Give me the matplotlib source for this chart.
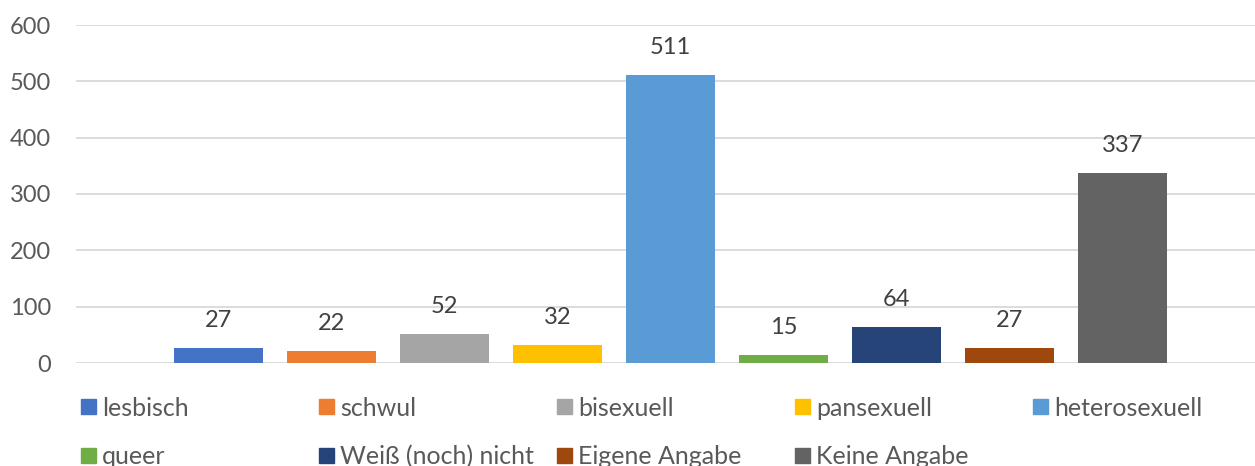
import numpy as np
import matplotlib.pyplot as plt
from matplotlib.patches import Rectangle

# data
categories = ['lesbisch', 'schwul', 'bisexuell', 'pansexuell', 'heterosexuell',
              'queer', 'Weiß (noch) nicht', 'Eigene Angabe', 'Keine Angabe']
counts = [27, 22, 52, 32, 511, 15, 64, 27, 337]
colors = ['#4472C4', '#ED7D31', '#A5A5A5', '#FFC000', '#5B9BD5',
          '#70AD47', '#264478', '#9E480E', '#636363']
yticks = [0, 100, 200, 300, 400, 500, 600]

plt.rcParams['font.family'] = ['Lato', 'DejaVu Sans']
txt_col = '#595959'

W, H = 1255, 466
fig = plt.figure(figsize=(W / 100, H / 100), dpi=100)
ax = fig.add_axes([76 / W, 1 - 363 / H, 1 - 76 / W, (363 - 25) / H])

x = np.arange(len(categories))
bars = ax.bar(x, counts, width=0.788, color=colors, zorder=3)
for b, v in zip(bars, counts):
    ax.annotate(str(v), (b.get_x() + b.get_width() / 2, v),
                xytext=(0, 12), textcoords='offset points',
                ha='center', va='bottom', fontsize=17, color='#404040')

ax.set_xlim(-1.261, 9.173)
ax.set_ylim(0, 600)
ax.set_yticks(yticks)
ax.set_xticks([])
ax.yaxis.grid(True, color='#D9D9D9', linewidth=1.3, zorder=0)
for s in ax.spines.values():
    s.set_visible(False)
ax.tick_params(axis='y', length=0, pad=18, labelsize=17, labelcolor=txt_col)
for lbl in ax.get_yticklabels():
    lbl.set_horizontalalignment('right')

# legend, 5 columns x 2 rows like excel
for i, (name, c) in enumerate(zip(categories, colors)):
    col, row = i % 5, i // 5
    px = 81 + 238 * col
    py = 406 + 49 * row
    fig.add_artist(Rectangle((px / W, 1 - (py + 7.5) / H), 15 / W, 15 / H,
                             transform=fig.transFigure, color=c))
    fig.text((px + 21) / W, 1 - py / H, name, ha='left', va='center_baseline',
             fontsize=18, color=txt_col)

fig.savefig('out.png', dpi=100)
